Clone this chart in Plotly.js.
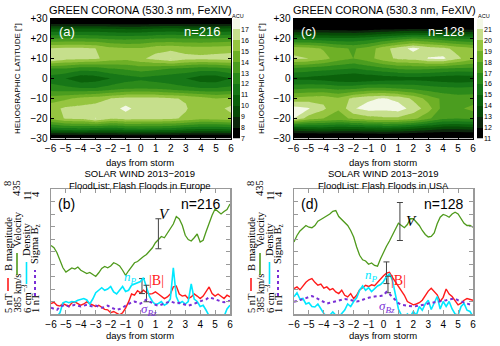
<!DOCTYPE html>
<html>
<head>
<meta charset="utf-8">
<script src="https://cdn.plot.ly/plotly-3.0.1.min.js"></script>
<style>
  body { margin: 0; background: #fff; }
  #plot { width: 500px; height: 346px; }
</style>
</head>
<body>
<div id="plot"></div>
<script>
// ---- green corona maps: rows = latitude, columns = days from storm
var days = [-6, -5, -4, -3, -2, -1, 0, 1, 2, 3, 4, 5, 6];
var lats = [-30, -25, -20, -15, -10, -5, 0, 5, 10, 15, 20, 25, 30];

var coronaEurope = [
  [6.0, 6.0, 6.0, 6.0, 6.0, 6.0, 6.0, 6.0, 6.0, 6.0, 6.0, 6.0, 6.0],
  [11.5, 11.8, 12.0, 11.8, 11.7, 12.0, 12.1, 12.0, 11.9, 11.5, 11.3, 11.3, 11.5],
  [15.2, 16.1, 16.2, 17.05, 16.1, 16.4, 16.3, 16.3, 16.2, 15.8, 15.3, 15.4, 15.6],
  [15.6, 16.2, 16.3, 16.4, 16.5, 17.3, 16.5, 16.4, 16.3, 16.1, 15.3, 15.6, 16.3],
  [14.5, 14.8, 15.3, 15.6, 16.0, 16.3, 16.3, 16.3, 16.1, 15.9, 15.5, 15.0, 15.2],
  [12.5, 12.3, 12.1, 12.1, 12.5, 12.9, 13.0, 12.9, 12.6, 12.3, 12.1, 12.1, 12.3],
  [11.5, 11.0, 10.3, 10.5, 11.0, 11.5, 11.8, 11.5, 11.3, 11.0, 10.4, 10.3, 11.0],
  [13.0, 13.0, 12.5, 12.5, 13.0, 13.2, 13.5, 13.3, 13.0, 12.8, 12.5, 12.6, 13.0],
  [17.1, 16.4, 16.3, 16.2, 15.5, 15.3, 15.8, 16.4, 17.05, 16.4, 16.3, 16.4, 16.5],
  [16.1, 16.2, 16.2, 16.0, 15.3, 15.1, 15.1, 15.6, 15.7, 15.5, 15.4, 15.5, 15.6],
  [13.0, 13.1, 13.1, 13.0, 12.8, 12.7, 12.8, 13.0, 13.1, 13.0, 13.0, 13.1, 13.2],
  [10.0, 10.0, 10.0, 10.0, 9.9, 9.8, 9.8, 10.0, 10.1, 10.0, 10.0, 10.0, 10.1],
  [5.5, 5.5, 5.5, 5.5, 5.5, 5.5, 5.5, 5.5, 5.5, 5.5, 5.5, 5.5, 5.5]
];

var coronaUSA = [
  [9.5, 9.5, 9.5, 9.5, 9.5, 9.5, 9.5, 9.5, 9.5, 9.5, 9.5, 9.5, 9.5],
  [14.0, 14.3, 14.5, 14.3, 14.3, 14.5, 14.7, 14.5, 14.1, 13.7, 13.3, 13.3, 13.5],
  [21.0, 19.5, 19.0, 18.6, 19.2, 19.6, 19.8, 19.8, 19.3, 18.2, 17.2, 17.0, 17.2],
  [21.4, 21.1, 20.2, 19.1, 20.9, 21.4, 21.3, 21.5, 20.6, 19.5, 17.6, 17.8, 18.3],
  [19.3, 19.5, 19.7, 19.2, 20.3, 20.8, 21.1, 20.7, 19.8, 18.6, 17.8, 17.5, 17.5],
  [16.8, 17.0, 17.0, 16.7, 16.8, 17.2, 17.2, 17.0, 16.8, 16.5, 16.3, 16.2, 16.3],
  [14.8, 14.7, 14.5, 14.2, 14.0, 14.2, 14.4, 14.5, 14.6, 14.5, 14.3, 14.2, 14.3],
  [16.8, 16.6, 16.4, 16.2, 16.0, 16.4, 16.8, 17.2, 17.3, 17.2, 17.0, 16.8, 16.8],
  [20.2, 20.0, 19.4, 18.5, 18.0, 18.6, 19.6, 20.2, 20.4, 21.05, 21.2, 20.2, 19.3],
  [19.6, 19.4, 18.9, 18.2, 17.9, 18.4, 19.6, 20.5, 21.3, 20.6, 20.3, 19.6, 19.2],
  [15.5, 15.4, 15.3, 15.2, 15.2, 15.5, 16.0, 16.5, 17.0, 16.8, 16.3, 16.0, 15.8],
  [11.5, 11.5, 11.4, 11.3, 11.2, 11.3, 11.5, 11.7, 11.8, 11.7, 11.5, 11.5, 11.5],
  [9.0, 9.0, 9.0, 9.0, 9.0, 9.0, 9.0, 9.0, 9.0, 9.0, 9.0, 9.0, 9.0]
];

// colour bar levels (ACU)
var levelsEurope = [7, 8, 9, 10, 11, 12, 13, 14, 15, 16, 17];
var levelsUSA = [11, 12, 13, 14, 15, 16, 17, 18, 19, 20, 21];

// ---- solar wind superposed epochs, every 0.2 day
var swDays = [-6.0, -5.8, -5.6, -5.4, -5.2, -5.0, -4.8, -4.6, -4.4, -4.2,
  -4.0, -3.8, -3.6, -3.4, -3.2, -3.0, -2.8, -2.6, -2.4, -2.2,
  -2.0, -1.8, -1.6, -1.4, -1.2, -1.0, -0.8, -0.6, -0.4, -0.2,
  0.0, 0.2, 0.4, 0.6, 0.8, 1.0, 1.2, 1.4, 1.6, 1.8,
  2.0, 2.2, 2.4, 2.6, 2.8, 3.0, 3.2, 3.4, 3.6, 3.8,
  4.0, 4.2, 4.4, 4.6, 4.8, 5.0, 5.2, 5.4, 5.6, 5.8, 6.0];

// Europe (n=216)
var vEurope = [412.4, 411.5, 409.5, 406.5, 403.5, 401.8, 402.6, 403.4, 403.0, 403.8,
  402.5, 402.0, 401.2, 401.6, 400.8, 400.0, 401.5, 403.2, 404.0, 403.5,
  404.2, 405.5, 405.0, 404.2, 402.5, 400.5, 402.3, 403.8, 405.5, 406.0,
  407.2, 408.0, 408.8, 410.0, 411.5, 413.5, 414.8, 416.0, 415.5, 417.5,
  419.5, 421.0, 424.0, 423.0, 420.5, 416.5, 414.8, 414.2, 415.5, 417.0,
  413.8, 414.5, 418.0, 421.5, 424.5, 427.0, 426.0, 425.0, 426.0, 426.8, 429.0];
var bEurope = [5.25, 5.28, 5.21, 5.19, 5.25, 5.21, 5.18, 5.27, 5.29, 5.25,
  5.21, 5.24, 5.29, 5.25, 5.21, 5.18, 5.21, 5.16, 5.11, 5.10,
  5.03, 5.06, 5.02, 4.98, 5.03, 5.14, 5.29, 5.48, 5.45, 5.56,
  5.51, 5.57, 5.51, 5.48, 5.49, 5.53, 5.48, 5.43, 5.37, 5.41,
  5.48, 5.65, 5.67, 5.48, 5.43, 5.45, 5.37, 5.41, 5.48, 5.43,
  5.37, 5.43, 5.53, 5.65, 5.49, 5.43, 5.48, 5.43, 5.37, 5.45, 5.41];
var nEurope = [5.7, 5.8, 5.9, 6.05, 6.45, 6.5, 6.45, 6.5, 6.48, 6.55,
  6.6, 6.62, 6.56, 6.4, 6.6, 6.85, 6.95, 7.05, 6.95, 7.0,
  7.1, 6.88, 6.8, 6.95, 7.1, 6.9, 6.95, 7.15, 7.2, 7.25,
  7.3, 7.45, 7.1, 6.7, 6.5, 6.38, 6.42, 6.5, 6.35, 6.42,
  6.6, 7.85, 6.7, 6.42, 6.5, 6.4, 6.5, 7.2, 6.6, 6.5,
  6.3, 6.35, 6.15, 5.9, 5.7, 5.6, 5.7, 5.8, 5.9, 6.2, 6.35];
var sEurope = [1.15, 1.12, 1.1, 1.18, 1.2, 1.22, 1.18, 1.2, 1.22, 1.2,
  1.18, 1.2, 1.22, 1.2, 1.18, 1.2, 1.18, 1.15, 1.17, 1.2,
  1.16, 1.13, 1.1, 1.12, 1.15, 1.2, 1.25, 1.28, 1.3, 1.28,
  1.25, 1.3, 1.35, 1.3, 1.25, 1.22, 1.2, 1.22, 1.25, 1.28,
  1.3, 1.28, 1.25, 1.27, 1.25, 1.22, 1.2, 1.22, 1.25, 1.28,
  1.3, 1.33, 1.35, 1.4, 1.38, 1.35, 1.32, 1.3, 1.28, 1.3, 1.32];

// USA (n=128)
var vUSA = [413.8, 416.4, 418.2, 419.5, 420.4, 419.7, 419.5, 420.4, 422.1, 422.8,
  423.5, 424.0, 425.0, 426.1, 426.4, 424.0, 422.7, 421.7, 420.4, 418.4,
  415.8, 411.8, 408.5, 406.7, 406.2, 404.9, 405.4, 404.4, 404.1, 407.1,
  409.8, 412.1, 414.2, 416.4, 419.1, 421.3, 420.4, 419.5, 420.8, 423.1,
  423.1, 421.7, 420.4, 418.4, 416.8, 415.8, 416.0, 417.4, 421.1, 423.7,
  424.8, 424.4, 423.7, 425.0, 425.7, 425.0, 423.1, 421.3, 420.4, 420.4, 419.7];
var bUSA = [5.61, 5.65, 5.58, 5.68, 5.76, 5.82, 5.85, 5.76, 5.69, 5.72,
  5.62, 5.65, 5.58, 5.61, 5.53, 5.49, 5.57, 5.45, 5.41, 5.49,
  5.37, 5.45, 5.58, 5.63, 5.69, 5.66, 5.70, 5.68, 5.76, 5.85,
  5.92, 5.98, 6.0, 5.88, 5.78, 5.66, 5.58, 5.45, 5.30, 5.26,
  5.22, 5.24, 5.27, 5.33, 5.45, 5.55, 5.62, 5.53, 5.46, 5.30,
  5.40, 5.60, 5.48, 5.42, 5.32, 5.22, 5.26, 5.33, 5.37, 5.35, 5.33];
var nUSA = [6.69, 6.85, 6.6, 6.62, 6.4, 6.45, 6.3, 6.28, 6.4, 6.2,
  6.02, 5.9, 5.95, 6.08, 5.95, 5.88, 6.0, 6.16, 6.4, 6.3,
  6.5, 6.65, 6.95, 7.12, 6.95, 7.05, 6.9, 7.02, 7.12, 7.18,
  7.3, 7.5, 7.6, 7.35, 6.8, 6.2, 5.95, 5.85, 6.0, 5.9,
  6.1, 5.95, 6.3, 6.15, 6.4, 6.55, 6.18, 6.42, 6.7, 6.2,
  6.5, 6.3, 6.5, 6.2, 6.0, 5.95, 6.3, 6.42, 6.15, 6.1, 5.9];
var sUSA = [1.29, 1.31, 1.33, 1.35, 1.38, 1.41, 1.43, 1.40, 1.36, 1.31,
  1.27, 1.25, 1.27, 1.29, 1.3, 1.32, 1.34, 1.36, 1.35, 1.33,
  1.32, 1.3, 1.31, 1.35, 1.37, 1.39, 1.41, 1.42, 1.43, 1.43,
  1.45, 1.53, 1.48, 1.4, 1.32, 1.26, 1.22, 1.21, 1.2, 1.19,
  1.18, 1.19, 1.2, 1.21, 1.23, 1.25, 1.27, 1.28, 1.29, 1.3,
  1.31, 1.33, 1.35, 1.36, 1.37, 1.33, 1.3, 1.27, 1.25, 1.23, 1.21];

// typical error bars: [day, centre, half-length] for V, |B|, n
var errEurope = { v: [1.2, 417.1, 6.0], b: [0.1, 5.67, 0.18], n: [0.4, 6.82, 0.33] };
var errUSA = { v: [1.1, 422.0, 7.6], b: [0.2, 5.99, 0.26], n: [0.3, 7.18, 0.33] };

// scale of each curve (bottom / top of the panel)
var rangeB = [5, 8], rangeV = [385, 435], rangeN = [6, 11], rangeS = [1, 4];

// ---------------------------------------------------------------
var W = 500, H = 346;
var SANS = 'Liberation Sans, Arial, sans-serif';
var SERIF = 'Liberation Serif, Times New Roman, serif';
function px(x) { return x / W; }
function py(y) { return 1 - y / H; }

var greenScale = [
  [0 / 12, '#000000'], [1 / 12, '#000000'], [2 / 12, '#0c260c'],
  [3 / 12, '#074a07'], [4 / 12, '#0b610b'], [5 / 12, '#177717'],
  [6 / 12, '#2b8a1a'], [7 / 12, '#4b9d1f'], [8 / 12, '#6eb026'],
  [9 / 12, '#96c540'], [10 / 12, '#c6df8c'], [11 / 12, '#f3f8e6'],
  [12 / 12, '#ffffff']
];

var cRed = '#ff1a1a', cGreen = '#4f9a1c', cCyan = '#00e8ff', cPurple = '#7a2fd6';

var topY = [py(138.5), py(18.5)];
var botY = [py(314), py(189)];

function corona(z, lo, xa, ya) {
  return {
    type: 'contour', x: days, y: lats, z: z, xaxis: xa, yaxis: ya,
    colorscale: greenScale, showscale: false, autocontour: false,
    contours: { start: lo, end: lo + 11, size: 1, coloring: 'fill', showlines: false },
    line: { width: 0, smoothing: 0 }, hoverinfo: 'skip'
  };
}

function colourBar(levels, xa, ya) {
  var z = levels.map(function (l) { return [l + 0.5]; });
  var y = levels.map(function (l) { return l + 0.5; });
  return {
    type: 'heatmap', x: [0], y: y, z: z, xaxis: xa, yaxis: ya,
    colorscale: greenScale, zmin: levels[0] - 0.5, zmax: levels[0] + 11.5,
    showscale: false, hoverinfo: 'skip'
  };
}

// the |B| axis is the base axis of each panel, the others overlay it
function wind(v, b, n, s, err, xa, yb, yv, yn, ys) {
  function line(x, y, yax, color, dash, width) {
    return { type: 'scatter', mode: 'lines', x: x, y: y, xaxis: xa, yaxis: yax,
      line: { color: color, width: width, dash: dash }, hoverinfo: 'skip' };
  }
  function bar(e, yax) {
    return { type: 'scatter', mode: 'markers', x: [e[0]], y: [e[1]], xaxis: xa, yaxis: yax,
      marker: { size: 1, color: 'rgba(0,0,0,0)' },
      error_y: { type: 'data', array: [e[2]], visible: true, color: '#444', thickness: 1, width: 3 },
      hoverinfo: 'skip' };
  }
  return [
    line(swDays, b, yb, cRed, 'solid', 1.4),
    line(swDays, s, ys, cPurple, 'dot', 2),
    line(swDays, n, yn, cCyan, 'solid', 1.6),
    line(swDays, v, yv, cGreen, 'solid', 1.3),
    bar(err.v, yv), bar(err.b, yb), bar(err.n, yn)
  ];
}

var data = [
  corona(coronaEurope, 7, 'x', 'y'),
  corona(coronaUSA, 11, 'x2', 'y2'),
  colourBar(levelsEurope, 'x5', 'y11'),
  colourBar(levelsUSA, 'x6', 'y12')
].concat(
  wind(vEurope, bEurope, nEurope, sEurope, errEurope, 'x3', 'y3', 'y4', 'y5', 'y6'),
  wind(vUSA, bUSA, nUSA, sUSA, errUSA, 'x4', 'y7', 'y8', 'y9', 'y10')
);

function mapX(dom, anchor) {
  return { domain: dom, anchor: anchor, range: [-6, 6], tickmode: 'linear', tick0: -6, dtick: 1,
    ticks: 'inside', ticklen: 4, tickcolor: '#000', showline: true, mirror: 'ticks',
    linecolor: '#000', linewidth: 1, showgrid: false, zeroline: false,
    tickfont: { family: SANS, size: 10, color: '#000' } };
}
function mapY(anchor) {
  return { domain: topY, anchor: anchor, range: [-30, 30], tickmode: 'array',
    tickvals: [-30, -20, -10, 0, 10, 20, 30],
    ticktext: ['\u221230', '\u221220', '\u221210', '0', '+10', '+20', '+30'],
    ticks: 'inside', ticklen: 3, tickcolor: '#000', showline: true, mirror: 'ticks',
    linecolor: '#000', linewidth: 1, showgrid: false, zeroline: false,
    tickfont: { family: SANS, size: 10, color: '#000' } };
}
function windX(dom, anchor) {
  return { domain: dom, anchor: anchor, range: [-6, 6], tickmode: 'linear', tick0: -6, dtick: 1,
    ticks: 'inside', ticklen: 4, tickcolor: '#999', showline: true, mirror: 'ticks',
    linecolor: '#999', linewidth: 1.5, showgrid: false, zeroline: false,
    tickfont: { family: SANS, size: 10, color: '#000' } };
}
function windY(anchor) {
  return { domain: botY, anchor: anchor, range: rangeB, tickmode: 'linear', tick0: 5, dtick: 0.3,
    ticks: 'inside', ticklen: 4, tickcolor: '#999', showline: true, mirror: 'ticks',
    linecolor: '#999', linewidth: 1.5, showgrid: false, zeroline: false,
    showticklabels: false };
}
function overlay(base, anchor, range) {
  return { overlaying: base, anchor: anchor, range: range, visible: false,
    showgrid: false, zeroline: false };
}
function barX(dom, anchor) {
  return { domain: dom, anchor: anchor, range: [-0.5, 0.5], visible: false };
}
function barY(anchor, levels) {
  return { domain: topY, anchor: anchor, side: 'right', range: [levels[0], levels[0] + 11],
    tickmode: 'array', tickvals: levels, ticks: '', showline: false, showgrid: false,
    zeroline: false, tickfont: { family: SANS, size: 7, color: '#000' } };
}

// ---- texts
function note(x, y, text, font, extra) {
  var a = { xref: 'paper', yref: 'paper', x: px(x), y: py(y), text: text,
    showarrow: false, xanchor: 'center', yanchor: 'middle', font: font };
  if (extra) for (var k in extra) a[k] = extra[k];
  return a;
}
function sans(size, color) { return { family: SANS, size: size, color: color || '#000' }; }
function serif(size, color) { return { family: SERIF, size: size, color: color || '#000' }; }

var annotations = [];
var shapes = [];

// top row
annotations.push(
  note(140, 10, 'GREEN CORONA (530.3 nm, FeXIV)', sans(11)),
  note(384, 10, 'GREEN CORONA (530.3 nm, FeXIV)', sans(11)),
  note(18, 79, 'HELIOGRAPHIC LATITUDE [\u00b0]', sans(8), { textangle: -90 }),
  note(262, 79, 'HELIOGRAPHIC LATITUDE [\u00b0]', sans(8), { textangle: -90 }),
  note(140, 162, 'days from storm', sans(9.5)),
  note(383, 162, 'days from storm', sans(9.5)),
  note(57, 31, '(a)', sans(13, '#fff'), { xanchor: 'left' }),
  note(223, 31, 'n=216', sans(13, '#fff'), { xanchor: 'right' }),
  note(299, 31, '(c)', sans(13, '#fff'), { xanchor: 'left' }),
  note(467, 31, 'n=128', sans(13, '#fff'), { xanchor: 'right' }),
  note(238, 15.5, 'ACU', sans(5.5)),
  note(484, 15.5, 'ACU', sans(5.5))
);

// bottom row
var legendUnits = ['5 nT', '385 km/s', '6 cm<sup>\u22123</sup>', '1 nT'];
var legendNames = ['B magnitude', 'Velocity', 'Density', 'Sigma B<sub>z</sub>'];
var legendTops = ['8', '435', '11', '4'];
var legendColors = [cRed, cGreen, cCyan, cPurple];
var colX = [8, 17, 26.5, 35];
var segs = [[291, 278], [275, 253], [284, 262], [296, 270]];
var nameBottom = [273, 249, 258, 266];
var topMid = [184, 188, 196, 194];

[[0, 'Europe', 'n=216', '(b)'], [243, 'USA', 'n=128', '(d)']].forEach(function (p) {
  var dx = p[0];
  annotations.push(
    note(140 + dx, 179.5, 'SOLAR WIND 2013\u22122019<br>FloodList: Flash Floods in ' + p[1], sans(9.5)),
    note(140 + dx, 335, 'days from storm', sans(9.5)),
    note(56 + dx, 204, p[3], sans(14), { xanchor: 'left' }),
    note(223 + dx, 204, p[2], sans(14), { xanchor: 'right' })
  );
  for (var i = 0; i < 4; i++) {
    annotations.push(
      note(colX[i] + dx, 315, legendUnits[i], serif(10.5), { textangle: -90, yanchor: 'bottom' }),
      note(colX[i] + dx, nameBottom[i], legendNames[i], serif(10.5), { textangle: -90, yanchor: 'bottom' }),
      note(colX[i] + dx, topMid[i], legendTops[i], serif(10.5), { textangle: -90 })
    );
    shapes.push({ type: 'line', xref: 'paper', yref: 'paper',
      x0: px(colX[i] + dx), x1: px(colX[i] + dx), y0: py(segs[i][0]), y1: py(segs[i][1]),
      line: { color: legendColors[i], width: i === 3 ? 2 : 1.6, dash: i === 3 ? 'dot' : 'solid' } });
  }
});

function label(xa, ya, x, y, text, font) {
  return { xref: xa, yref: ya, x: x, y: y, text: text, showarrow: false, font: font };
}
annotations.push(
  label('x3', 'y4', 1.64, 425.0, '<i>V</i>', serif(15)),
  label('x3', 'y3', 1.1, 5.81, '|B|', serif(14, cRed)),
  label('x3', 'y5', -0.64, 7.46, '<i>n<sub>P</sub></i>', serif(13, cCyan)),
  label('x3', 'y6', 0.57, 1.11, '<i>\u03c3<sub>Bz</sub></i>', serif(13, cPurple)),
  label('x4', 'y8', 1.9, 422.4, '<i>V</i>', serif(15)),
  label('x4', 'y7', 1.0, 5.81, '|B|', serif(14, cRed)),
  label('x4', 'y9', -0.8, 7.55, '<i>n<sub>P</sub></i>', serif(13, cCyan)),
  label('x4', 'y10', 0.21, 1.18, '<i>\u03c3<sub>Bz</sub></i>', serif(13, cPurple))
);

var layout = {
  width: W, height: H, margin: { l: 0, r: 0, t: 0, b: 0 },
  paper_bgcolor: '#fff', plot_bgcolor: 'rgba(0,0,0,0)', showlegend: false,
  font: { family: SANS, color: '#000' },
  xaxis: mapX([px(50.5), px(231)], 'y'),
  yaxis: mapY('x'),
  xaxis2: mapX([px(293.5), px(473)], 'y2'),
  yaxis2: mapY('x2'),
  xaxis3: windX([px(51), px(230)], 'y3'),
  yaxis3: windY('x3'),
  yaxis4: overlay('y3', 'x3', rangeV),
  yaxis5: overlay('y3', 'x3', rangeN),
  yaxis6: overlay('y3', 'x3', rangeS),
  xaxis4: windX([px(294), px(473)], 'y7'),
  yaxis7: windY('x4'),
  yaxis8: overlay('y7', 'x4', rangeV),
  yaxis9: overlay('y7', 'x4', rangeN),
  yaxis10: overlay('y7', 'x4', rangeS),
  xaxis5: barX([px(233), px(240)], 'y11'),
  yaxis11: barY('x5', levelsEurope),
  xaxis6: barX([px(477), px(483)], 'y12'),
  yaxis12: barY('x6', levelsUSA),
  annotations: annotations,
  shapes: shapes
};

Plotly.newPlot('plot', data, layout, { displayModeBar: false, staticPlot: true });
</script>
</body>
</html>
